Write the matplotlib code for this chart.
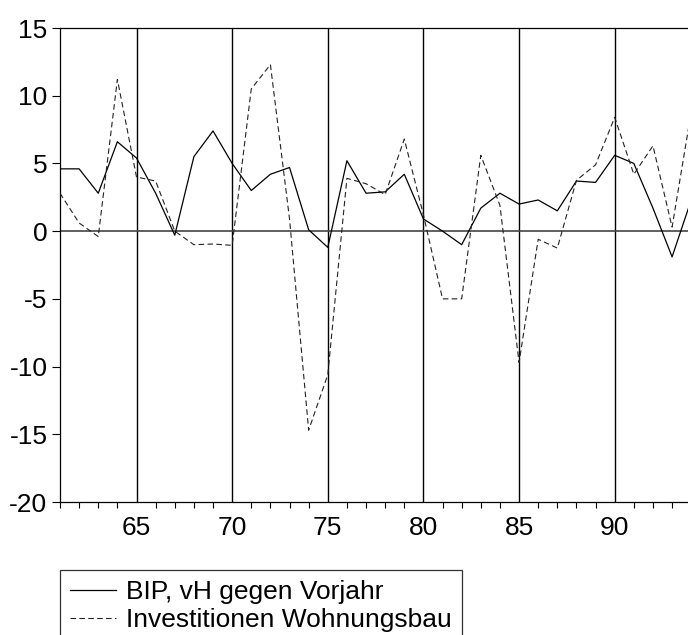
import numpy as np
import matplotlib
matplotlib.use("Agg")
import matplotlib.pyplot as plt

plt.rcParams['font.family'] = ['Liberation Sans', 'DejaVu Sans']
plt.rcParams['axes.unicode_minus'] = False

# Jahre 1961..1994 (Achse in zweistelligen Jahren)
years = np.arange(61, 95)

# BIP, vH gegen Vorjahr
bip = [4.6, 4.6, 2.8, 6.6, 5.4, 2.8, -0.3, 5.5, 7.4, 5.0,
       3.0, 4.2, 4.7, 0.1, -1.2, 5.2, 2.8, 2.9, 4.2, 0.9,
       0.0, -1.0, 1.7, 2.8, 2.0, 2.3, 1.5, 3.7, 3.6, 5.6,
       5.0, 1.7, -1.9, 2.3]

# Investitionen Wohnungsbau
wohnbau = [2.8, 0.6, -0.4, 11.2, 4.0, 3.7, 0.0, -1.0, -0.95, -1.05,
           10.5, 12.3, 0.9, -14.7, -10.6, 3.9, 3.5, 2.7, 6.8, 1.2,
           -5.0, -5.0, 5.6, 1.9, -9.7, -0.6, -1.25, 3.75, 4.9, 8.4,
           4.2, 6.3, 0.3, 8.8]

labels = ["BIP, vH gegen Vorjahr", "Investitionen Wohnungsbau"]
fs = 19

fig = plt.figure(figsize=(6.88, 6.35), dpi=100)
ax = fig.add_axes([60/688, 1 - 502/635, 1 - 60/688, (502 - 28)/635])

# senkrechte Linien alle 5 Jahre, Nulllinie
for x in range(65, 95, 5):
    ax.axvline(x, color='black', lw=1.0, zorder=1)
ax.axhline(0, color='#444444', lw=1.2, zorder=1)

l1, = ax.plot(years, bip, color='black', lw=0.9, zorder=3)
l2, = ax.plot(years, wohnbau, color='#222222', lw=0.8,
              dashes=(5, 3), zorder=3)

ax.set_xlim(61, 61 + (688 - 60.9) / 19.1)
ax.set_ylim(-20, 15)

ax.set_xticks(range(65, 95, 5))
ax.set_xticklabels([str(x) for x in range(65, 95, 5)], fontsize=fs)
ax.set_xticks([y for y in years if y % 5 != 0 and y < 94], minor=True)
ax.tick_params(axis='x', which='major', length=0, pad=10)
ax.tick_params(axis='x', which='minor', length=4, width=0.8, direction='out')

ax.set_yticks(range(-20, 16, 5))
ax.set_yticklabels([str(v) for v in range(-20, 16, 5)], fontsize=fs)
ax.tick_params(axis='y', length=6, width=0.8, direction='out', pad=3)

ax.spines['right'].set_visible(False)
for s in ['left', 'top', 'bottom']:
    ax.spines[s].set_linewidth(0.9)

# Legende unterhalb, am unteren Rand abgeschnitten
leg = fig.legend([l1, l2], labels, loc='upper left',
                 bbox_to_anchor=(60/688, 1 - 570/635),
                 fontsize=fs, frameon=True, fancybox=False,
                 edgecolor='black', handlelength=1.75, handletextpad=0.38,
                 borderpad=0.38, labelspacing=0.15, borderaxespad=0)
leg.get_frame().set_linewidth(0.9)

fig.savefig("out.png", dpi=100)
